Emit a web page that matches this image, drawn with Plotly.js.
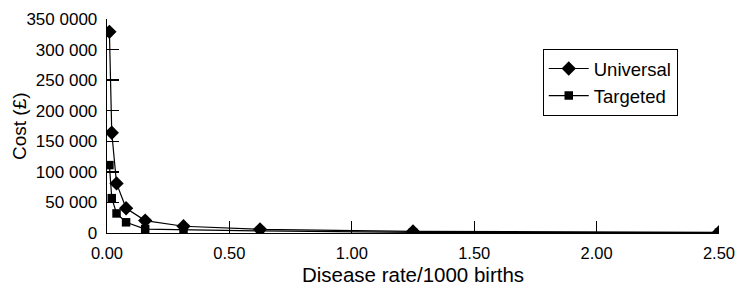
<!DOCTYPE html>
<html><head><meta charset="utf-8">
<script src="https://cdn.plot.ly/plotly-3.0.1.min.js"></script>
<style>html,body{margin:0;padding:0;background:#fff}</style>
</head><body>
<div id="chart" style="width:737px;height:286px"></div>
<script>
const rates = [0.0098, 0.0195, 0.039, 0.078, 0.156, 0.3125, 0.625, 1.25, 2.5];
const universal = [329000, 164000, 81000, 40500, 20300, 11000, 6000, 2500, 1250];
const targeted = [111000, 57000, 32000, 17500, 6500, 5500, 3500, 1000, 500];
const yTickVals = [0, 50000, 100000, 150000, 200000, 250000, 300000, 350000];
const yTickText = ["0", "50 000", "100 000", "150 000", "200 000", "250 000", "300 000", "350 0000"];
const xTickVals = [0, 0.5, 1, 1.5, 2, 2.5];
const xTickText = ["0.00", "0.50", "1.00", "1.50", "2.00", "2.50"];

const fam = "Liberation Sans, Arial, sans-serif";
const traces = [
  {x: rates, y: universal, name: "Universal", mode: "lines+markers",
   line: {color: "#000", width: 1.2}, marker: {symbol: "diamond", size: 11, color: "#000"}},
  {x: rates, y: targeted, name: "Targeted", mode: "lines+markers",
   line: {color: "#000", width: 1.2}, marker: {symbol: "square", size: 8.5, color: "#000"}}
];
const tickLen = 12;

const layout = {
  width: 737, height: 286,
  margin: {l: 107, r: 18, t: 19, b: 53},
  paper_bgcolor: "#fff", plot_bgcolor: "#fff",
  font: {family: fam, size: 17, color: "#000"},
  showlegend: true,
  legend: {x: 0.712, y: 0.86, xanchor: "left", yanchor: "top",
    bordercolor: "#000", borderwidth: 1, bgcolor: "#fff", itemwidth: 40,
    font: {family: fam, size: 18.5, color: "#000"}, tracegroupgap: 0},
  annotations: [{text: "Cost (£)", xref: "paper", yref: "paper", x: 0, y: 0.5, xshift: -88,
    textangle: -90, showarrow: false, xanchor: "center", yanchor: "middle",
    font: {family: fam, size: 19, color: "#000"}}],
  xaxis: {range: [0, 2.5], tickmode: "array", tickvals: xTickVals, ticktext: xTickText,
    ticks: "inside", ticklen: tickLen, tickcolor: "#000", tickwidth: 1.3, ticklabelstandoff: 5,
    showline: true, linecolor: "#000", linewidth: 1.3, showgrid: false, zeroline: false,
    title: {text: "Disease rate/1000 births", font: {family: fam, size: 20.5, color: "#000"}, standoff: 9},
    tickfont: {family: fam, size: 16.5, color: "#000"}},
  yaxis: {range: [0, 350000], tickmode: "array", tickvals: yTickVals, ticktext: yTickText,
    ticks: "inside", ticklen: tickLen, tickcolor: "#000", tickwidth: 1.3, ticklabelstandoff: 5,
    showline: true, linecolor: "#000", linewidth: 1.3, showgrid: false, zeroline: false,
    tickfont: {family: fam, size: 17, color: "#000"}}
};
Plotly.newPlot("chart", traces, layout, {displayModeBar: false, staticPlot: true});
</script>
</body></html>
